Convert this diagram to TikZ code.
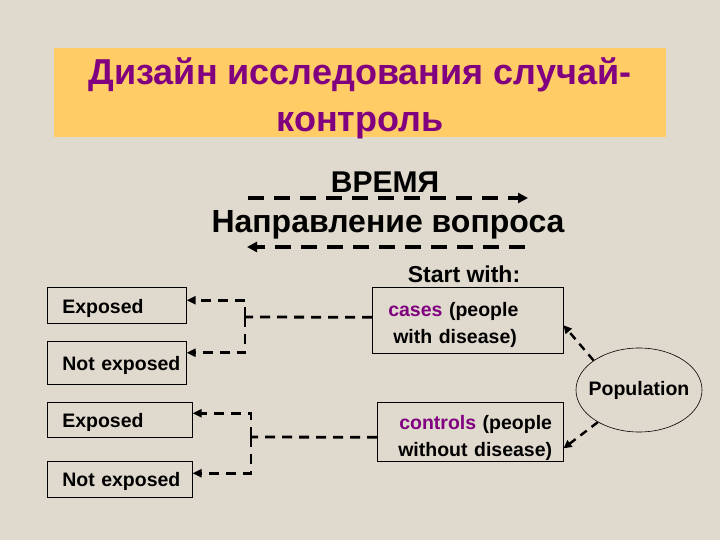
\documentclass[tikz,border=0pt]{standalone}
\usepackage{fontspec}
\setmainfont{Liberation Sans}
\usepackage{xcolor}
\usetikzlibrary{arrows.meta, shapes.geometric, calc}

\definecolor{titlepurple}{HTML}{800080}
\definecolor{titlefill}{HTML}{FFCC66}
\definecolor{paper}{HTML}{E0D9CD}

\begin{document}
\begin{tikzpicture}[
    x=1pt, y=-1pt,
    every node/.style={font=\bfseries},
    groupbox/.style={draw, line width=0.6pt, anchor=north west, align=left, inner xsep=0pt, inner ysep=0pt, text width=#1, font=\fontsize{19.5}{27}\bfseries},
    link/.style={line width=2.8pt, dash pattern=on 10pt off 7pt},
    linkarrow/.style={link, -{Triangle[length=9pt,width=8pt]}},
    timearrow/.style={line width=3.5pt, dash pattern=on 16pt off 10pt, -{Triangle[length=10pt,width=10pt]}},
    poparrow/.style={line width=2.4pt, dash pattern=on 8pt off 6pt, -{Triangle[length=8pt,width=8pt]}}
]

\useasboundingbox (0,0) rectangle (720,540);
\fill[paper] (0,0) rectangle (720,540);

% Title
\node[fill=titlefill, minimum width=612pt, minimum height=89pt] (titlebox) at (360,92.5) {};
\node[text=titlepurple, align=center, font=\fontsize{36}{47}\bfseries] (title) at (360,98) {Дизайн исследования случай-\\контроль};

% Time and direction of the question
\node[font=\fontsize{30}{36}\bfseries] (time) at (385,182) {ВРЕМЯ};
\node[font=\fontsize{32}{36}\bfseries] (ask) at (388,225) {Направление вопроса};

\coordinate (t0) at (248,198);
\coordinate (t1) at (528,198);
\coordinate (q0) at (525,247);
\coordinate (q1) at (247,247);
\draw[timearrow] (t0) -- (t1);
\draw[timearrow] (q0) -- (q1);

% Cases and controls
\node[font=\fontsize{23}{28}\bfseries] (start) at (464,274) {Start with:};
\node[groupbox=191pt, minimum height=66pt] (cases) at (372,287) {\rule{0pt}{24pt}\hspace*{16pt}\textcolor{titlepurple}{cases} (people\\\hspace*{21pt}with disease)};
\node[groupbox=186pt, minimum height=59pt] (controls) at (377,402) {\rule{0pt}{26pt}\hspace*{22pt}\textcolor{titlepurple}{controls} (people\\\hspace*{21pt}without disease)};

\node[ellipse, draw, line width=0.6pt, minimum width=126pt, minimum height=84pt, inner xsep=-6pt, inner ysep=0pt, font=\fontsize{19.5}{24}\bfseries] (pop) at (639,390) {Population};

% Exposure groups
\node[groupbox=139pt, minimum height=36pt] (exp1) at (47,287) {\rule{0pt}{20pt}\hspace*{15pt}Exposed};
\node[groupbox=139pt, minimum height=43pt] (nexp1) at (47,341) {\rule{0pt}{19pt}\hspace*{15pt}Not exposed};
\node[groupbox=145pt, minimum height=35pt] (exp2) at (47,402) {\rule{0pt}{19pt}\hspace*{15pt}Exposed};
\node[groupbox=145pt, minimum height=36pt] (nexp2) at (47,461) {\rule{0pt}{19pt}\hspace*{15pt}Not exposed};

% Links
\coordinate (k1) at (245,317);
\draw[link] ([yshift=3pt]cases.west) -- (k1);
\draw[linkarrow] (k1) |- ([yshift=5pt]exp1.east);
\draw[linkarrow] (k1) |- ([yshift=10pt]nexp1.east);

\coordinate (k2) at (251,437);
\draw[link] ([yshift=-5.5pt]controls.west) -- (k2);
\draw[linkarrow] (k2) |- ([yshift=6.5pt]exp2.east);
\draw[linkarrow] (k2) |- ([yshift=6pt]nexp2.east);

\draw[poparrow] (pop.147) -- ([yshift=-5pt]cases.east);
\draw[poparrow] (pop.218) -- ([yshift=-16.5pt]controls.east);

\end{tikzpicture}
\end{document}
